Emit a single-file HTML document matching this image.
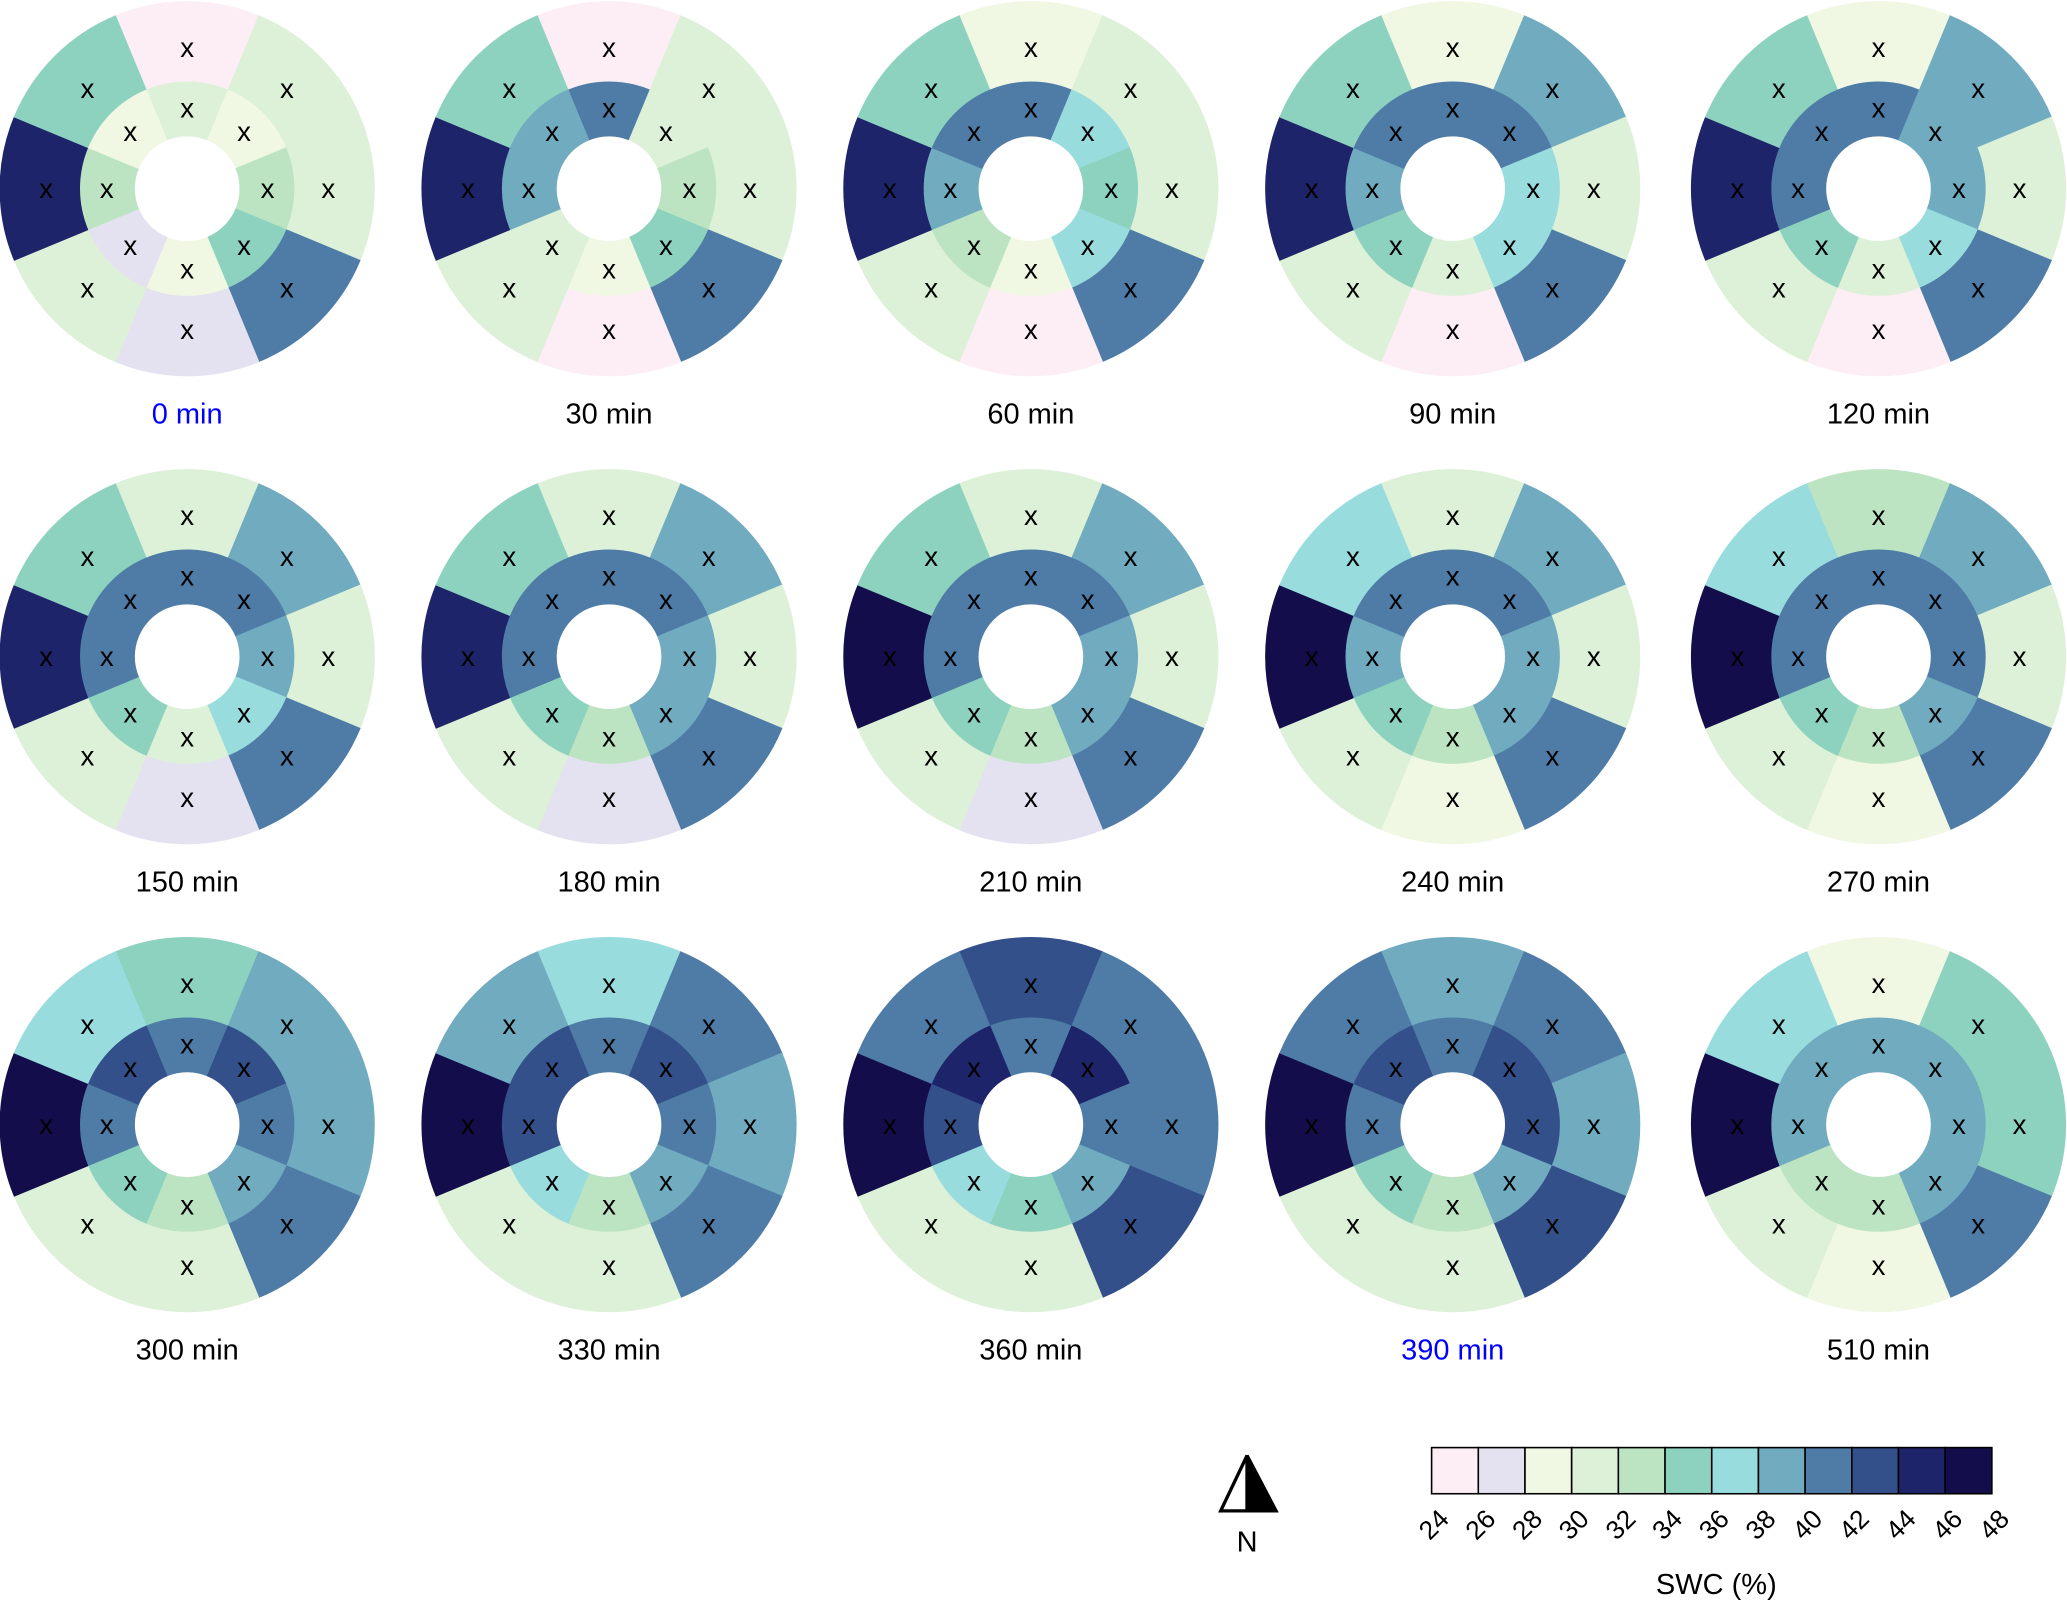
<!DOCTYPE html>
<html><head><meta charset="utf-8"><style>
html,body{margin:0;padding:0;background:#fff;}
svg{display:block;font-family:"Liberation Sans",Arial,sans-serif;}
</style></head><body>
<svg id="chart" width="2067" height="1602" viewBox="0 0 1568 1215" xmlns="http://www.w3.org/2000/svg">
<g id="donuts"></g>
<g id="legend"></g>
<g>
<polygon points="946,1104 926,1146 946,1146" fill="#fff" stroke="#000" stroke-width="2.5"/>
<polygon points="946,1104 968,1146 946,1146" fill="#000" stroke="#000" stroke-width="2.5"/>
<text x="946" y="1177" text-anchor="middle" font-size="22">N</text>
</g>
</svg>
<script>
// Time points
const times = ["0 min","30 min","60 min","90 min","120 min","150 min","180 min","210 min","240 min","270 min","300 min","330 min","360 min","390 min","510 min"];
const highlighted = ["0 min","390 min"];
// SWC (%) per sector: order N, NE, E, SE, S, SW, W, NW
const outerSWC = [
 [25,31,31,41,27,31,45,35],
 [25,31,31,41,25,31,45,35],
 [29,31,31,41,25,31,45,35],
 [29,39,31,41,25,31,45,35],
 [29,39,31,41,25,31,45,35],
 [31,39,31,41,27,31,45,35],
 [31,39,31,41,27,31,45,35],
 [31,39,31,41,27,31,47,35],
 [31,39,31,41,29,31,47,37],
 [33,39,31,41,29,31,47,37],
 [35,39,39,41,31,31,47,37],
 [37,41,39,41,31,31,47,39],
 [43,41,41,43,31,31,47,41],
 [39,41,39,43,31,31,47,41],
 [29,35,35,41,29,31,47,37]
];
const innerSWC = [
 [31,29,33,35,29,27,33,29],
 [41,31,33,35,29,31,39,39],
 [41,37,35,37,29,33,39,41],
 [41,41,37,37,31,35,39,41],
 [41,39,39,37,31,35,41,41],
 [41,41,39,37,31,35,41,41],
 [41,41,39,39,33,35,41,41],
 [41,41,39,39,33,35,41,41],
 [41,41,39,39,33,35,39,41],
 [41,41,41,39,33,35,41,41],
 [41,43,41,39,33,35,41,43],
 [41,43,41,39,33,37,43,43],
 [41,45,41,39,35,37,43,45],
 [41,43,43,39,33,35,41,43],
 [39,39,39,39,33,33,39,39]
];
const legendTicks = [24,26,28,30,32,34,36,38,40,42,44,46,48];
const palette = ["#fdeef5","#e4e2f0","#f0f8e4","#ddf0d8","#bde4c2","#8dd2bf","#98dcde","#71abc0","#4e7ca6","#33508a","#1e246a","#130e4b"];

const NS="http://www.w3.org/2000/svg";
function colorOf(v){let i=Math.floor((v-24)/2);i=Math.max(0,Math.min(11,i));return palette[i];}
function pt(cx,cy,r,a){const t=a*Math.PI/180;return [cx+r*Math.sin(t),cy-r*Math.cos(t)];}
function sector(cx,cy,r0,r1,a0,a1){
 const p1=pt(cx,cy,r1,a0),p2=pt(cx,cy,r1,a1),p3=pt(cx,cy,r0,a1),p4=pt(cx,cy,r0,a0);
 return `M${p1[0]},${p1[1]} A${r1},${r1} 0 0 1 ${p2[0]},${p2[1]} L${p3[0]},${p3[1]} A${r0},${r0} 0 0 0 ${p4[0]},${p4[1]} Z`;
}
const colX=[142,462,782,1102,1425], rowY=[143,498,853], labY=[313,668,1023];
const R_OUT=142,R_MID=81,R_IN=40;
const gD=document.getElementById('donuts');
times.forEach((t,k)=>{
 const cx=colX[k%5], cy=rowY[Math.floor(k/5)];
 const g=document.createElementNS(NS,'g');
 
 
 gD.appendChild(g);
 [[outerSWC[k],R_MID,R_OUT,107,'outer'],[innerSWC[k],R_IN,R_MID,61,'inner']].forEach(([vals,r0,r1,rl,nm])=>{
  vals.forEach((v,i)=>{
   const a=i*45;
   const p=document.createElementNS(NS,'path');
   p.setAttribute('d',sector(cx,cy,r0,r1,a-22.5,a+22.5));
   p.setAttribute('fill',colorOf(v));
   p.setAttribute('stroke',colorOf(v));
   p.setAttribute('stroke-width','0.6');
   
   
   g.appendChild(p);
   const lp=pt(cx,cy,rl,a);
   const tx=document.createElementNS(NS,'text');
   tx.setAttribute('x',lp[0]);tx.setAttribute('y',lp[1]+7);
   tx.setAttribute('text-anchor','middle');tx.setAttribute('font-size','21');
   tx.textContent='x';
   
   
   g.appendChild(tx);
  });
 });
 const lb=document.createElementNS(NS,'text');
 lb.setAttribute('x',cx);lb.setAttribute('y',labY[Math.floor(k/5)]+8);
 lb.setAttribute('text-anchor','middle');lb.setAttribute('font-size','22');
 lb.setAttribute('fill',highlighted.includes(t)?'#0000ff':'#000');
 lb.textContent=t;
 
 
 g.appendChild(lb);
});
// legend
const gL=document.getElementById('legend');
const LX0=1086,LX1=1511,LY=1098,LH=35;
const bw=(LX1-LX0)/(legendTicks.length-1);
for(let i=0;i<legendTicks.length-1;i++){
 const r=document.createElementNS(NS,'rect');
 r.setAttribute('x',LX0+i*bw);r.setAttribute('y',LY);r.setAttribute('width',bw);r.setAttribute('height',LH);
 r.setAttribute('fill',colorOf(legendTicks[i]+1));r.setAttribute('stroke','#000');r.setAttribute('stroke-width','1.2');
 
 
 gL.appendChild(r);
}
legendTicks.forEach((v,i)=>{
 const x=LX0+i*bw+4, y=LY+LH+10;
 const tx=document.createElementNS(NS,'text');
 tx.setAttribute('x',x);tx.setAttribute('y',y);
 tx.setAttribute('text-anchor','end');tx.setAttribute('font-size','20');
 tx.setAttribute('dominant-baseline','hanging');
 tx.setAttribute('transform',`rotate(-45 ${x} ${y})`);
 tx.textContent=v;
 
 
 gL.appendChild(tx);
});
const tt=document.createElementNS(NS,'text');
tt.setAttribute('x',1302);tt.setAttribute('y',1209);tt.setAttribute('text-anchor','middle');tt.setAttribute('font-size','22');
tt.textContent='SWC (%)';


gL.appendChild(tt);
</script>
</body></html>
